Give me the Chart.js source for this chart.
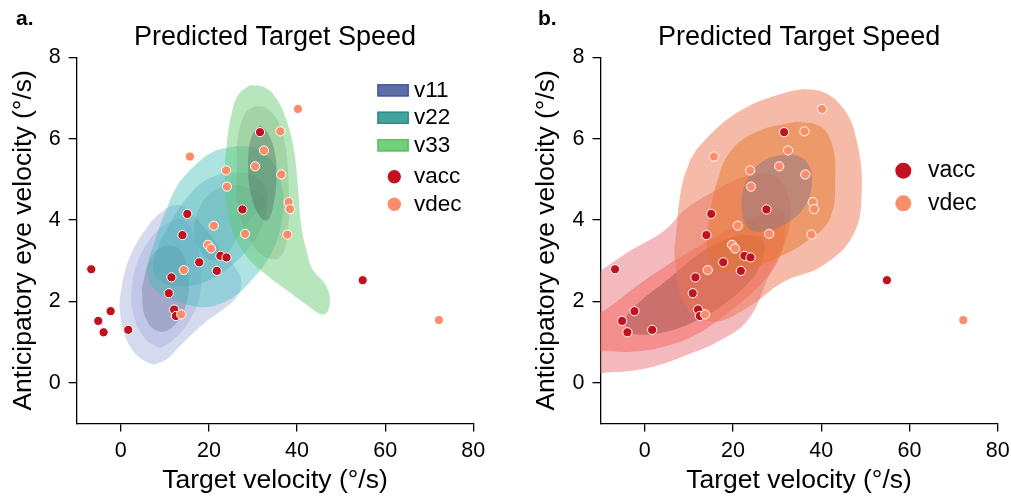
<!DOCTYPE html>
<html>
<head>
<meta charset="utf-8">
<script src="https://cdn.jsdelivr.net/npm/chart.js@4.4.1/dist/chart.umd.min.js"></script>
<style>
  html, body { margin: 0; padding: 0; background: #fff; }
  #wrap { position: relative; width: 1011px; height: 497px; overflow: hidden; }
  canvas { position: absolute; top: 0; }
</style>
</head>
<body>
<div id="wrap">
  <canvas id="chartA" width="505" height="497" style="left:0;width:505px;height:497px"></canvas>
  <canvas id="chartB" width="540" height="497" style="left:505px;width:540px;height:497px"></canvas>
</div>
<script>
const FAM = '"Liberation Sans", Arial, Helvetica, sans-serif';

// tick labels
const xTicks = [0, 20, 40, 60, 80];
const yTicks = [0, 2, 4, 6, 8];

// scatter points: target velocity vs anticipatory eye velocity
const vaccX = [-6.7, -5.1, -3.9, -2.3, 1.7, 31.6, 15.1, 14.0, 27.6, 17.8, 22.6, 24.0, 21.8, 11.5, 10.9, 12.1, 12.5, 54.9];
const vaccY = [2.79, 1.52, 1.24, 1.76, 1.30, 6.16, 4.15, 3.63, 4.26, 2.96, 3.12, 3.08, 2.75, 2.59, 2.20, 1.80, 1.64, 2.52];
const vdecX = [40.2, 36.2, 32.5, 15.7, 30.5, 23.9, 36.4, 24.1, 38.1, 38.4, 21.1, 28.2, 37.8, 19.8, 20.5, 14.3, 13.7, 72.2];
const vdecY = [6.73, 6.18, 5.71, 5.56, 5.32, 5.22, 5.12, 4.82, 4.44, 4.27, 3.86, 3.66, 3.64, 3.39, 3.30, 2.77, 1.68, 1.54];

// density contour outlines (panel a)
const v11L1 = [[7.4,0.44],[4.0,0.64],[1.35,1.05],[-0.16,1.71],[0.22,2.36],[2.1,3.10],[5.5,3.75],[9.3,4.20],[13.4,4.36],[18.7,3.84],[23.3,3.19],[26.6,2.73],[27.4,2.44],[26.3,2.10],[23.3,1.81],[18.7,1.44],[14.2,0.99],[10.4,0.58]];
const v11L2 = [[8.9,0.84],[5.5,1.09],[3.0,1.62],[2.5,2.28],[4.0,3.02],[7.4,3.63],[11.2,3.96],[14.2,4.0],[16.5,3.67],[18.0,3.02],[18.0,2.20],[15.7,1.54],[11.9,1.05]];
const v11L3 = [[4.75,2.32],[6.6,3.02],[9.7,3.35],[13.4,3.26],[15.3,2.69],[14.9,1.95],[11.9,1.38],[8.5,1.26],[5.5,1.62]];
const v22L1 = [[26.3,5.82],[21.0,5.68],[16.5,5.31],[12.7,4.82],[10.0,4.16],[7.8,3.51],[6.0,2.77],[7.4,2.32],[11.2,2.07],[17.2,1.87],[21.7,1.91],[26.3,2.16],[29.7,2.52],[33.1,2.98],[35.7,3.59],[36.8,4.25],[36.5,4.86],[34.6,5.39],[30.8,5.76]];
const v22L2 = [[22.9,5.15],[18.7,4.94],[14.6,4.49],[11.2,3.92],[8.5,3.34],[7.4,2.77],[9.7,2.45],[14.9,2.37],[20.2,2.53],[24.8,2.85],[29.3,3.34],[32.3,3.92],[33.4,4.49],[32.3,4.90],[28.5,5.15]];
const v22L3 = [[17.2,4.16],[19.5,4.57],[23.3,4.82],[27.8,4.82],[31.9,4.61],[32.7,4.37],[30.4,4.14],[27.0,3.67],[24.0,3.18],[20.2,3.02],[17.6,3.34],[16.6,3.75]];
const v33L1 = [[29.3,7.32],[26.6,7.07],[25.0,6.54],[24.0,5.80],[23.6,4.98],[24.4,4.16],[26.3,3.50],[29.3,3.01],[33.1,2.65],[37.6,2.28],[42.1,1.92],[45.5,1.68],[47.0,1.76],[47.4,2.12],[46.3,2.44],[43.6,2.77],[42.3,3.18],[41.0,3.84],[40.2,4.82],[39.3,5.72],[37.6,6.46],[35.3,6.99],[32.7,7.26]];
const v33L2 = [[30.4,6.80],[28.2,6.62],[26.6,6.05],[26.3,5.15],[26.6,4.33],[28.2,3.76],[30.8,3.26],[34.6,3.03],[36.8,3.18],[38.0,3.84],[38.1,4.82],[37.4,5.80],[35.7,6.42],[33.1,6.75]];
const v33L3 = [[31.6,6.34],[29.7,6.05],[28.9,5.39],[29.5,4.66],[31.6,4.08],[33.4,4.00],[34.7,4.41],[35.3,4.98],[35.0,5.64],[33.4,6.13]];

// density contour outlines (panel b)
const vaccL1 = [[-13.1,2.55],[-9.8,2.77],[-3.0,3.26],[4.6,3.75],[9.1,4.25],[15.6,4.70],[21.6,5.03],[26.9,5.15],[30.7,4.98],[32.6,4.57],[33.0,4.0],[31.5,3.34],[28.4,2.69],[23.4,1.54],[15.9,0.97],[10.0,0.70],[4.6,0.48],[-1.8,0.31],[-8.6,0.25],[-13.1,0.25]];
const vaccL2 = [[-13.1,1.62],[-9.0,1.79],[-3.0,2.28],[4.6,2.85],[12.1,3.34],[18.2,3.71],[24.5,4.05],[29.5,4.28],[31.6,4.1],[31.6,3.51],[29.5,2.85],[25.0,2.28],[19.7,1.79],[12.1,1.21],[4.6,0.89],[-3.0,0.76],[-9.0,0.78],[-13.1,0.78]];
const vaccL3 = [[-4.5,1.46],[-3.7,1.71],[-0.7,2.03],[4.6,2.48],[9.1,2.89],[13.6,3.26],[18.2,3.51],[22.7,3.63],[26.5,3.55],[27.2,3.26],[25.7,2.77],[22.7,2.36],[18.2,1.95],[12.1,1.54],[4.6,1.25],[-3.0,1.21]];
const vdecL1 = [[10.3,5.48],[12.6,5.84],[20.1,6.58],[29.9,7.07],[39.0,7.19],[45.0,6.75],[48.1,5.93],[49.2,4.70],[47.3,3.64],[40.5,2.89],[31.5,2.48],[23.1,1.83],[15.6,1.50],[9.6,1.83],[6.9,2.98],[7.3,3.84],[8.4,4.82]];
const vdecL2 = [[34.5,6.42],[25.4,6.17],[19.4,5.68],[16.4,4.94],[14.8,4.12],[14.1,3.30],[15.6,2.85],[19.4,2.69],[23.1,2.77],[29.9,3.06],[36.7,3.47],[42.0,4.04],[43.2,5.11],[42.4,5.88],[39.8,6.30]];
const vdecL3 = [[33.0,5.65],[26.9,5.45],[23.1,4.96],[22.0,4.30],[23.5,3.80],[26.9,3.71],[31.5,3.88],[36.0,4.29],[37.9,4.86],[36.7,5.43]];

const VACC = '#c1121f';
const VDEC = '#fc8d6a';

function toPts(xs, ys) {
  return xs.map((x, i) => ({ x: x, y: ys[i] }));
}

function shape(poly, color) {
  const closed = poly.concat([poly[0]]);
  return {
    type: 'line',
    data: closed.map(p => ({ x: p[0], y: p[1] })),
    backgroundColor: color,
    borderColor: 'rgba(0,0,0,0)',
    borderWidth: 0,
    pointRadius: 0,
    pointHoverRadius: 0,
    fill: 'shape',
    tension: 0.4
  };
}

function dots(xs, ys, color) {
  return {
    type: 'scatter',
    data: toPts(xs, ys),
    backgroundColor: color,
    borderColor: '#fff',
    borderWidth: 1,
    pointRadius: 4.6,
    pointHoverRadius: 4.6
  };
}

// first in list is drawn first
function ordered(list) {
  list.forEach((d, i) => { d.order = list.length - i; });
  return list;
}

const decor = {
  id: 'decor',
  afterDraw(chart, args, o) {
    const ctx = chart.ctx;
    const a = chart.chartArea;
    ctx.save();
    ctx.fillStyle = '#000';
    ctx.textAlign = 'left';
    ctx.textBaseline = 'alphabetic';
    ctx.font = 'bold 21px ' + FAM;
    ctx.fillText(o.tag, o.tagX, 25);
    ctx.font = '27px ' + FAM;
    ctx.textAlign = 'center';
    ctx.fillText('Predicted Target Speed', (a.left + a.right) / 2, 45);

    ctx.textAlign = 'left';
    ctx.textBaseline = 'middle';
    ctx.font = o.legendSize + 'px ' + FAM;
    o.legend.forEach(it => {
      if (it.kind === 'patch') {
        ctx.fillStyle = it.fill;
        ctx.fillRect(it.x, it.y - 6.2, 31.5, 12.4);
        ctx.strokeStyle = it.stroke;
        ctx.lineWidth = 1.5;
        ctx.strokeRect(it.x + 0.75, it.y - 5.45, 30, 10.9);
      } else {
        ctx.fillStyle = it.fill;
        ctx.beginPath();
        ctx.arc(it.x, it.y, it.r, 0, Math.PI * 2);
        ctx.fill();
      }
      ctx.fillStyle = '#000';
      ctx.fillText(it.label, it.tx, it.y);
    });
    ctx.restore();
  }
};

function options(pad, tag, tagX, legend, legendSize) {
  const tickFont = { family: FAM, size: 21.5 };
  const titleFont = { family: FAM, size: 26.5, lineHeight: 1 };
  return {
    responsive: false,
    animation: false,
    layout: { padding: pad },
    plugins: {
      legend: { display: false },
      tooltip: { enabled: false },
      decor: { tag: tag, tagX: tagX, legend: legend, legendSize: legendSize }
    },
    scales: {
      x: {
        type: 'linear',
        min: -10,
        max: 80,
        afterBuildTicks: s => { s.ticks = xTicks.map(v => ({ value: v })); },
        afterFit: s => { s.height = 73.6; },
        grid: { drawOnChartArea: false, drawTicks: true, tickLength: 8, color: '#000', lineWidth: 1.3 },
        border: { display: true, color: '#000', width: 1.3 },
        ticks: { color: '#000', font: tickFont, padding: 7, maxRotation: 0 },
        title: { display: true, text: 'Target velocity (°/s)', color: '#000', font: titleFont, padding: { top: 0, bottom: 3 } }
      },
      y: {
        type: 'linear',
        min: -1,
        max: 8,
        afterBuildTicks: s => { s.ticks = yTicks.map(v => ({ value: v })); },
        afterFit: s => { s.width = 76.7; },
        grid: { drawOnChartArea: false, drawTicks: true, tickLength: 8, color: '#000', lineWidth: 1.3 },
        border: { display: true, color: '#000', width: 1.3 },
        ticks: { color: '#000', font: tickFont, padding: 8 },
        title: { display: true, text: 'Anticipatory eye velocity (°/s)', color: '#000', font: titleFont, padding: { top: 10, bottom: 0 } }
      }
    }
  };
}

const legendA = [
  { kind: 'patch', x: 377.3, y: 90.3, fill: '#5b6ea8', stroke: '#4a5c9c', label: 'v11', tx: 414 },
  { kind: 'patch', x: 377.3, y: 117.8, fill: '#42a39e', stroke: '#2f8d89', label: 'v22', tx: 414 },
  { kind: 'patch', x: 377.3, y: 145.3, fill: '#72d07a', stroke: '#5cc266', label: 'v33', tx: 414 },
  { kind: 'dot', x: 394.3, y: 176.7, r: 6.7, fill: VACC, label: 'vacc', tx: 414 },
  { kind: 'dot', x: 394.3, y: 204.3, r: 6.7, fill: VDEC, label: 'vdec', tx: 414 }
];
const legendB = [
  { kind: 'dot', x: 398.3, y: 170.7, r: 8, fill: VACC, label: 'vacc', tx: 423 },
  { kind: 'dot', x: 398.3, y: 203.3, r: 8, fill: VDEC, label: 'vdec', tx: 423 }
];

new Chart(document.getElementById('chartA'), {
  type: 'scatter',
  data: {
    datasets: ordered([
      shape(v11L1, 'rgba(125,140,205,0.32)'),
      shape(v11L2, 'rgba(125,140,205,0.24)'),
      shape(v11L3, 'rgba(100,100,130,0.30)'),
      shape(v22L1, 'rgba(60,190,185,0.42)'),
      shape(v22L2, 'rgba(60,165,175,0.30)'),
      shape(v22L3, 'rgba(60,140,150,0.22)'),
      shape(v33L1, 'rgba(100,200,110,0.46)'),
      shape(v33L2, 'rgba(110,170,115,0.29)'),
      shape(v33L3, 'rgba(70,90,85,0.34)'),
      dots(vaccX, vaccY, VACC),
      dots(vdecX, vdecY, VDEC)
    ])
  },
  options: options({ left: 0, right: 31.7, top: 57.3, bottom: 0 }, 'a.', 16, legendA, 22.5),
  plugins: [decor]
});

new Chart(document.getElementById('chartB'), {
  type: 'scatter',
  data: {
    datasets: ordered([
      shape(vaccL1, 'rgba(231,115,121,0.5)'),
      shape(vaccL2, 'rgba(245,101,98,0.5)'),
      shape(vaccL3, 'rgba(166,81,77,0.5)'),
      shape(vdecL1, 'rgba(236,120,82,0.5)'),
      shape(vdecL2, 'rgba(231,118,40,0.48)'),
      shape(vdecL3, 'rgba(142,120,135,0.5)'),
      dots(vaccX, vaccY, VACC),
      dots(vdecX, vdecY, VDEC)
    ])
  },
  options: options({ left: 18.8, right: 47.3, top: 57.3, bottom: 0 }, 'b.', 33, legendB, 23),
  plugins: [decor]
});
</script>
</body>
</html>
